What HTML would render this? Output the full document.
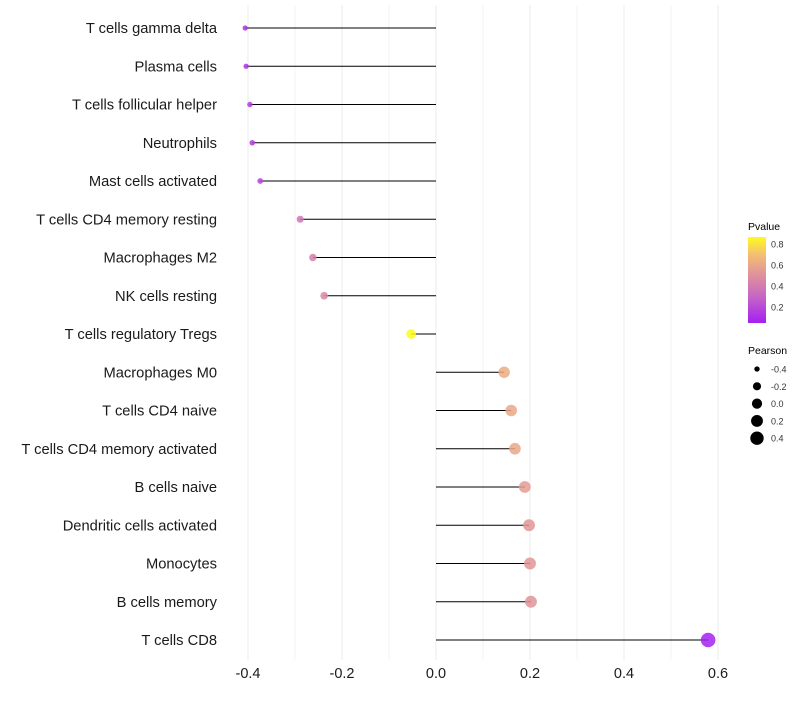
<!DOCTYPE html>
<html><head><meta charset="utf-8"><style>
body{margin:0;background:#fff;font-family:"Liberation Sans",sans-serif}
</style></head><body>
<svg id="chart" width="800" height="700" xmlns="http://www.w3.org/2000/svg" font-family="Liberation Sans, sans-serif">
<defs><linearGradient id="pg" x1="0" y1="1" x2="0" y2="0">
<stop offset="0" stop-color="#a41ff2"/><stop offset="0.3" stop-color="#c565c6"/><stop offset="0.55" stop-color="#df8f9c"/><stop offset="0.8" stop-color="#f3c071"/><stop offset="1" stop-color="#fffb1c"/></linearGradient></defs>
<g id="grid"></g><g id="marks"></g><g id="labels"></g><g id="legend"></g>
</svg>
<script>
const categories=["T cells gamma delta","Plasma cells","T cells follicular helper","Neutrophils","Mast cells activated","T cells CD4 memory resting","Macrophages M2","NK cells resting","T cells regulatory  Tregs","Macrophages M0","T cells CD4 naive","T cells CD4 memory activated","B cells naive","Dendritic cells activated","Monocytes","B cells memory","T cells CD8"];
const pearson=[-0.406,-0.404,-0.396,-0.391,-0.374,-0.289,-0.262,-0.238,-0.053,0.145,0.160,0.168,0.189,0.198,0.200,0.202,0.579];
const pvalue=[0.12,0.12,0.15,0.15,0.18,0.38,0.42,0.46,0.87,0.62,0.6,0.6,0.55,0.53,0.53,0.52,0.06];
const xTicks=[-0.4,-0.2,0,0.2,0.4,0.6];
const sizeLegend=[-0.4,-0.2,0.0,0.2,0.4];
const colorTicks=[0.8,0.6,0.4,0.2];
const NS="http://www.w3.org/2000/svg";
const X=v=>436+v*470;
const Y=i=>28+i*38.25;
const R=v=>Math.sqrt(Math.max(1,26+47*v));
const stops=[[0.05,[164,31,242]],[0.3,[197,101,198]],[0.5,[223,143,156]],[0.7,[243,192,113]],[0.87,[255,251,28]]];
function col(p){if(p<=stops[0][0])return 'rgb('+stops[0][1]+')';for(let k=1;k<stops.length;k++){if(p<=stops[k][0]){const a=stops[k-1],b=stops[k],t=(p-a[0])/(b[0]-a[0]);return 'rgb('+a[1].map((c,j)=>Math.round(c+(b[1][j]-c)*t))+')';}}return 'rgb('+stops[stops.length-1][1]+')';}
function mk(tag,attrs,parent,txt){const e=document.createElementNS(NS,tag);for(const k in attrs)e.setAttribute(k,attrs[k]);if(txt!==undefined)e.textContent=txt;document.getElementById(parent).appendChild(e);return e;}
for(let v=-0.4;v<=0.61;v+=0.1){const g=mk('line',{x1:X(v),x2:X(v),y1:5,y2:660,stroke:'#ebebeb','stroke-width':Math.abs(Math.round(v*10))%2===0?1:0.6},'grid');

}
categories.forEach((c,i)=>{
const l=mk('line',{x1:X(0),x2:X(pearson[i]),y1:Y(i),y2:Y(i),stroke:'#000','stroke-width':1},'marks');


const p=mk('circle',{cx:X(pearson[i]),cy:Y(i),r:R(pearson[i]),fill:col(pvalue[i]),'fill-opacity':0.85},'marks');


const t=mk('text',{x:217,y:Y(i)+5,'text-anchor':'end','font-size':14.7,fill:'#1a1a1a'},'labels',c);


});
xTicks.forEach(v=>{const t=mk('text',{x:X(v),y:678,'text-anchor':'middle','font-size':14.5,fill:'#1a1a1a'},'labels',v.toFixed(1));

});
let t=mk('text',{x:748,y:230,'font-size':10.5,fill:'#000'},'legend','Pvalue');


const bar=mk('rect',{x:748,y:237,width:18,height:86,fill:'url(#pg)'},'legend');


colorTicks.forEach(v=>{const y=323-(v-0.05)/(0.867-0.05)*86;
const tt=mk('text',{x:771,y:y+3.5,'font-size':9,fill:'#333'},'legend',v.toFixed(1));

});
t=mk('text',{x:748,y:354,'font-size':10.5,fill:'#000'},'legend','Pearson');


sizeLegend.forEach((v,k)=>{const y=369+k*17.3;
const c=mk('circle',{cx:757,cy:y,r:R(v),fill:'#000'},'legend');


const tt=mk('text',{x:771,y:y+3.5,'font-size':9,fill:'#333'},'legend',v.toFixed(1));

});
</script>
</body></html>
